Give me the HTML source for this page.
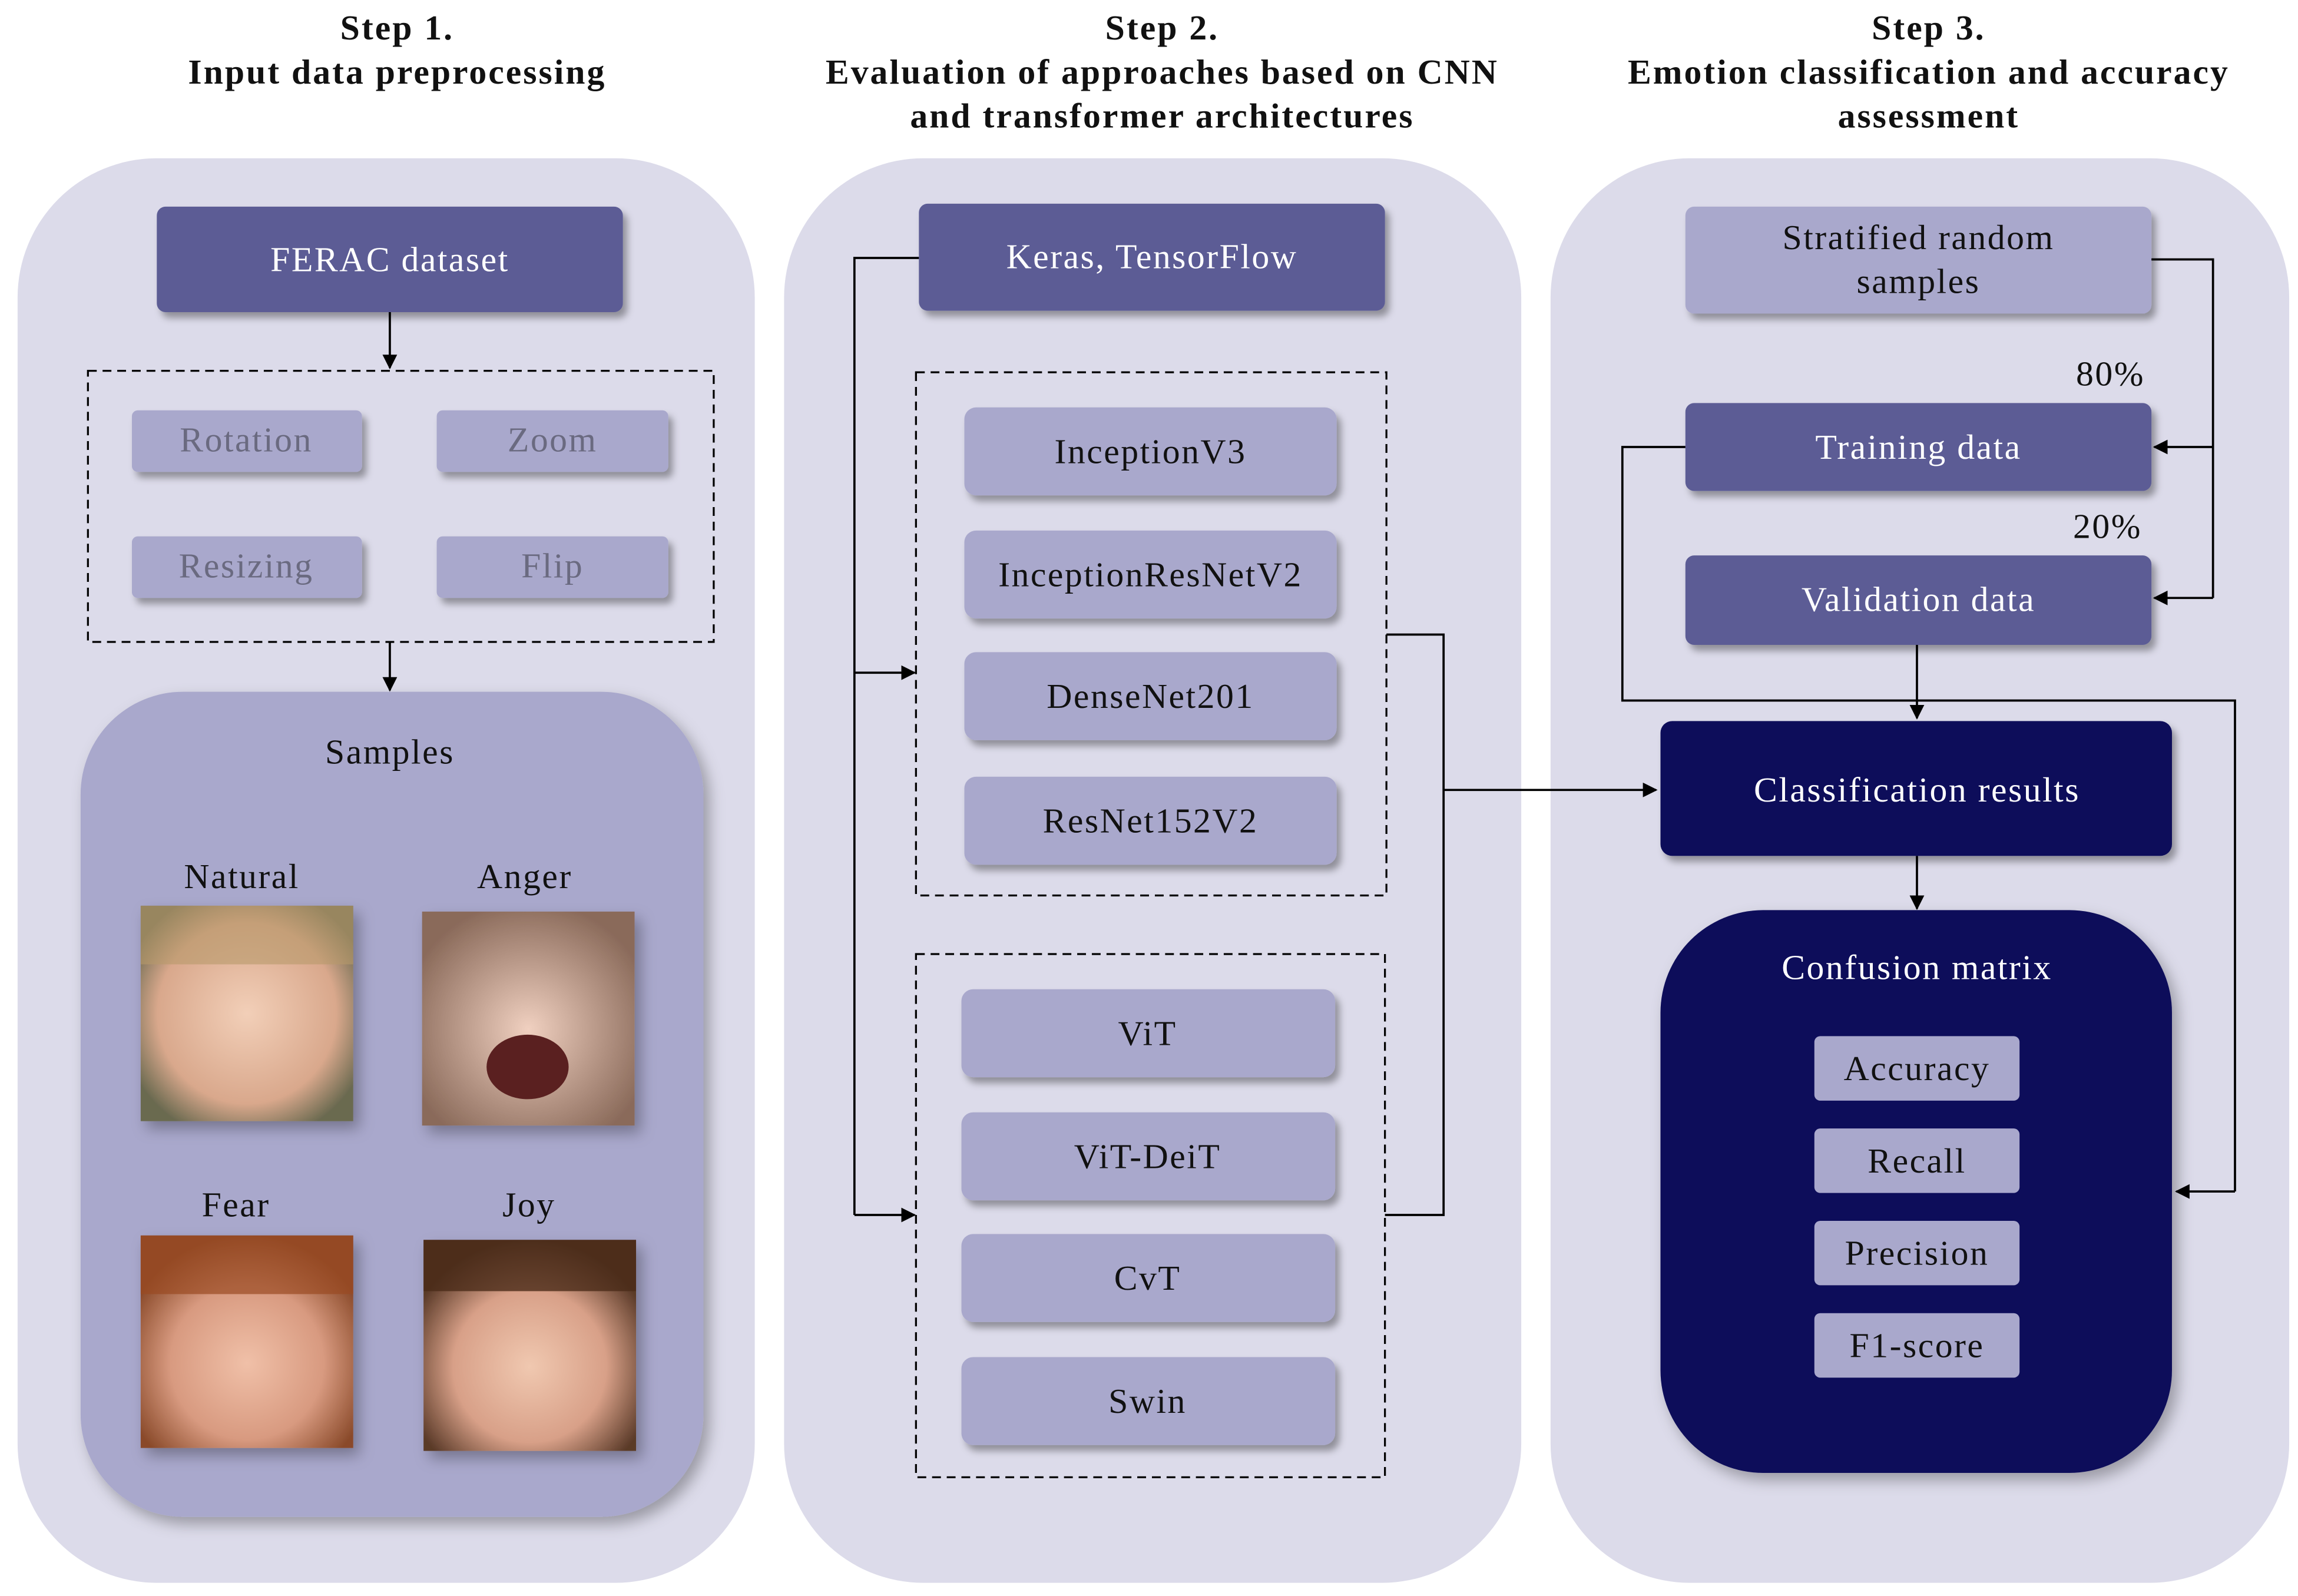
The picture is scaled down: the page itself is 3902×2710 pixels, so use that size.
<!DOCTYPE html>
<html><head><meta charset="utf-8"><style>
html,body{margin:0;padding:0;background:#fff}
svg{display:block}
text{font-family:"Liberation Serif",serif}
</style></head><body>
<svg width="3902" height="2710" viewBox="0 0 1568 1089" xmlns="http://www.w3.org/2000/svg">
<defs>
<filter id="sh" x="-20%" y="-20%" width="150%" height="160%"><feDropShadow dx="3" dy="4" stdDeviation="2.5" flood-color="#000" flood-opacity="0.35"/></filter>
<filter id="sh2" x="-20%" y="-20%" width="150%" height="150%"><feDropShadow dx="4" dy="5" stdDeviation="5" flood-color="#000" flood-opacity="0.3"/></filter>
<marker id="ar" markerWidth="10" markerHeight="10" refX="9" refY="5" orient="auto" markerUnits="userSpaceOnUse"><path d="M0,0 L10,5 L0,10 z" fill="#000"/></marker>
<radialGradient id="f1" cx="50%" cy="50%" r="60%"><stop offset="0" stop-color="#f2cfb8"/><stop offset="0.7" stop-color="#d9a88c"/><stop offset="1" stop-color="#6b6a50"/></radialGradient>
<radialGradient id="f2" cx="50%" cy="55%" r="60%"><stop offset="0" stop-color="#f0d0c0"/><stop offset="1" stop-color="#8a6a5a"/></radialGradient>
<radialGradient id="f3" cx="50%" cy="60%" r="60%"><stop offset="0" stop-color="#f0c0a8"/><stop offset="0.6" stop-color="#d89a80"/><stop offset="1" stop-color="#8a4a2a"/></radialGradient>
<radialGradient id="f4" cx="50%" cy="60%" r="60%"><stop offset="0" stop-color="#f0c8b0"/><stop offset="0.6" stop-color="#d8a088"/><stop offset="1" stop-color="#5a3a28"/></radialGradient>
</defs>

<g font-weight="bold" font-size="24" letter-spacing="1.2" text-anchor="middle" fill="#111">
<text x="271" y="27">Step 1.</text>
<text x="271" y="57">Input data preprocessing</text>
<text x="793" y="27">Step 2.</text>
<text x="793" y="57">Evaluation of approaches based on CNN</text>
<text x="793" y="87">and transformer architectures</text>
<text x="1316" y="27">Step 3.</text>
<text x="1316" y="57">Emotion classification and accuracy</text>
<text x="1316" y="87">assessment</text>
</g>

<rect x="12" y="108" width="503" height="972" rx="95" fill="#dcdbea"/>
<rect x="535" y="108" width="503" height="972" rx="95" fill="#dcdbea"/>
<rect x="1058" y="108" width="504" height="972" rx="95" fill="#dcdbea"/>

<g font-size="24" letter-spacing="1" text-anchor="middle">
<rect x="107" y="141" width="318" height="72" rx="6" fill="#5b5b95" filter="url(#sh)"/>
<text x="266" y="185" fill="#fff">FERAC dataset</text>
<line x1="266" y1="213" x2="266" y2="251" stroke="#000" stroke-width="1.5" marker-end="url(#ar)"/>
<rect x="60" y="253" width="427" height="185" fill="none" stroke="#000" stroke-width="1.3" stroke-dasharray="6,4"/>
<g filter="url(#sh)" fill="#a9a8cc">
<rect x="90" y="280" width="157" height="42" rx="4"/>
<rect x="298" y="280" width="158" height="42" rx="4"/>
<rect x="90" y="366" width="157" height="42" rx="4"/>
<rect x="298" y="366" width="158" height="42" rx="4"/>
</g>
<g fill="#6a6a80">
<text x="168" y="308">Rotation</text>
<text x="377" y="308">Zoom</text>
<text x="168" y="394">Resizing</text>
<text x="377" y="394">Flip</text>
</g>
<line x1="266" y1="438" x2="266" y2="471" stroke="#000" stroke-width="1.5" marker-end="url(#ar)"/>
<rect x="55" y="472" width="425" height="563" rx="70" fill="#a9a8cc" filter="url(#sh2)"/>
<g fill="#111">
<text x="266" y="521">Samples</text>
<text x="165" y="606">Natural</text>
<text x="358" y="606">Anger</text>
<text x="161" y="830">Fear</text>
<text x="361" y="830">Joy</text>
</g>
<g filter="url(#sh2)">
<rect x="96" y="618" width="145" height="147" fill="url(#f1)"/>
<rect x="288" y="622" width="145" height="146" fill="url(#f2)"/>
<rect x="96" y="843" width="145" height="145" fill="url(#f3)"/>
<rect x="289" y="846" width="145" height="144" fill="url(#f4)"/>
</g>
<rect x="96" y="618" width="145" height="40" fill="#b89a6a" opacity="0.6"/>
<rect x="96" y="843" width="145" height="40" fill="#9a4a22" opacity="0.7"/>
<rect x="289" y="846" width="145" height="35" fill="#4a2a18" opacity="0.8"/>
<ellipse cx="360" cy="728" rx="28" ry="22" fill="#5a2020"/>

<rect x="627" y="139" width="318" height="73" rx="6" fill="#5b5b95" filter="url(#sh)"/>
<text x="786" y="183" fill="#fff">Keras, TensorFlow</text>
<rect x="625" y="254" width="321" height="357" fill="none" stroke="#000" stroke-width="1.3" stroke-dasharray="6,4"/>
<rect x="625" y="651" width="320" height="357" fill="none" stroke="#000" stroke-width="1.3" stroke-dasharray="6,4"/>
<g filter="url(#sh)" fill="#a9a8cc">
<rect x="658" y="278" width="254" height="60" rx="8"/>
<rect x="658" y="362" width="254" height="60" rx="8"/>
<rect x="658" y="445" width="254" height="60" rx="8"/>
<rect x="658" y="530" width="254" height="60" rx="8"/>
<rect x="656" y="675" width="255" height="60" rx="8"/>
<rect x="656" y="759" width="255" height="60" rx="8"/>
<rect x="656" y="842" width="255" height="60" rx="8"/>
<rect x="656" y="926" width="255" height="60" rx="8"/>
</g>
<g fill="#111">
<text x="785" y="316">InceptionV3</text>
<text x="785" y="400">InceptionResNetV2</text>
<text x="785" y="483">DenseNet201</text>
<text x="785" y="568">ResNet152V2</text>
<text x="783" y="713">ViT</text>
<text x="783" y="797">ViT-DeiT</text>
<text x="783" y="880">CvT</text>
<text x="783" y="964">Swin</text>
</g>
<g stroke="#000" stroke-width="1.5" fill="none">
<polyline points="627,176 583,176 583,829"/>
<line x1="583" y1="459" x2="624" y2="459" marker-end="url(#ar)"/>
<line x1="583" y1="829" x2="624" y2="829" marker-end="url(#ar)"/>
<polyline points="946,433 985,433 985,829 945,829"/>
<line x1="985" y1="539" x2="1130" y2="539" marker-end="url(#ar)"/>
</g>

<rect x="1150" y="141" width="318" height="73" rx="6" fill="#a9a8cc" filter="url(#sh)"/>
<text x="1309" y="170" fill="#111">Stratified random</text>
<text x="1309" y="200" fill="#111">samples</text>
<rect x="1150" y="275" width="318" height="60" rx="6" fill="#5b5b95" filter="url(#sh)"/>
<text x="1309" y="313" fill="#fff">Training data</text>
<rect x="1150" y="379" width="318" height="61" rx="6" fill="#5b5b95" filter="url(#sh)"/>
<text x="1309" y="417" fill="#fff">Validation data</text>
<text x="1440" y="263" fill="#111">80%</text>
<text x="1438" y="367" fill="#111">20%</text>
<g stroke="#000" stroke-width="1.5" fill="none">
<polyline points="1468,177 1510,177 1510,408"/>
<line x1="1510" y1="305" x2="1470" y2="305" marker-end="url(#ar)"/>
<line x1="1510" y1="408" x2="1470" y2="408" marker-end="url(#ar)"/>
<polyline points="1150,305 1107,305 1107,478 1525,478 1525,813"/>
<line x1="1525" y1="813" x2="1485" y2="813" marker-end="url(#ar)"/>
<line x1="1308" y1="440" x2="1308" y2="490" marker-end="url(#ar)"/>
<line x1="1308" y1="584" x2="1308" y2="620" marker-end="url(#ar)"/>
</g>
<rect x="1133" y="492" width="349" height="92" rx="8" fill="#0c0c5a" filter="url(#sh)"/>
<text x="1308" y="547" fill="#fff">Classification results</text>
<rect x="1133" y="621" width="349" height="384" rx="70" fill="#0c0c5a" filter="url(#sh2)"/>
<text x="1308" y="668" fill="#fff">Confusion matrix</text>
<g fill="#a9a8cc">
<rect x="1238" y="707" width="140" height="44" rx="4"/>
<rect x="1238" y="770" width="140" height="44" rx="4"/>
<rect x="1238" y="833" width="140" height="44" rx="4"/>
<rect x="1238" y="896" width="140" height="44" rx="4"/>
</g>
<g fill="#111">
<text x="1308" y="737">Accuracy</text>
<text x="1308" y="800">Recall</text>
<text x="1308" y="863">Precision</text>
<text x="1308" y="926">F1-score</text>
</g>
</g>
</svg>
</body></html>
